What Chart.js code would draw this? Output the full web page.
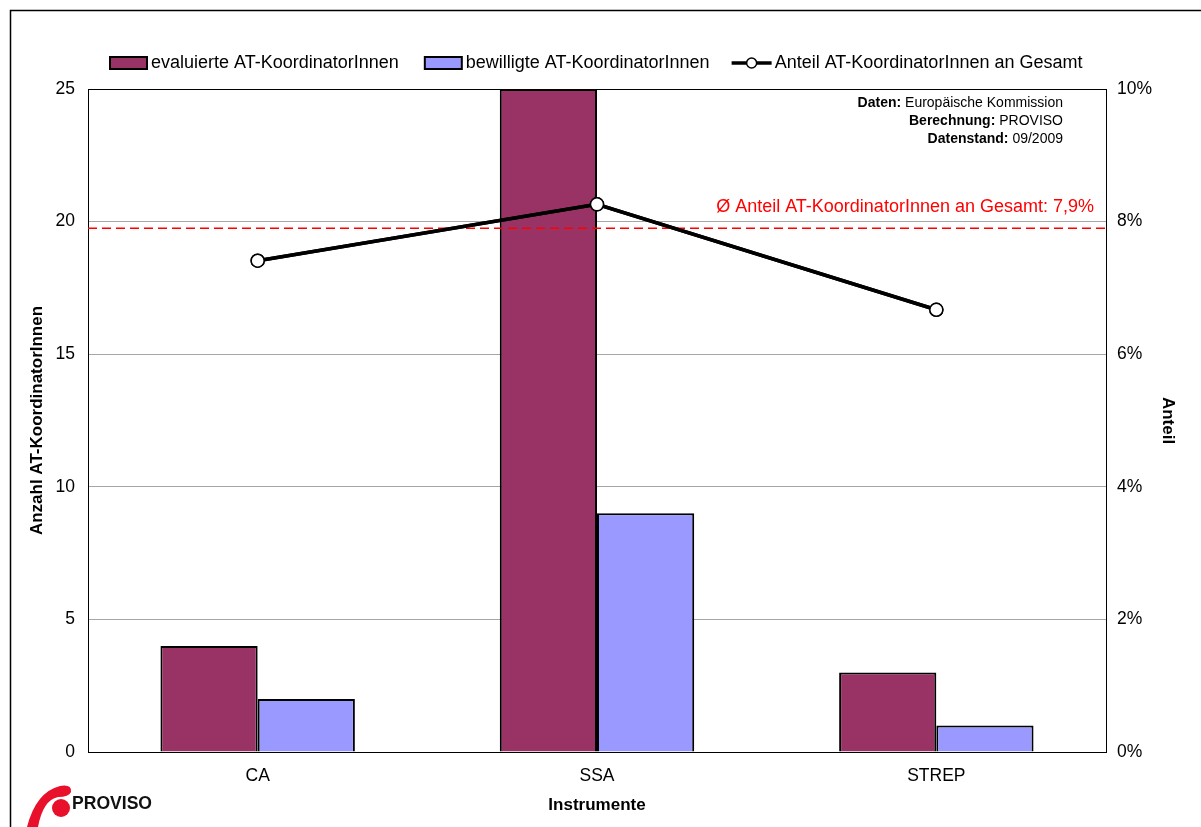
<!DOCTYPE html>
<html>
<head>
<meta charset="utf-8">
<script src="https://cdn.jsdelivr.net/npm/chart.js@4"></script>
<style>
  html, body { margin: 0; padding: 0; background: #fff; }
  #wrap { width: 1201px; height: 827px; }
</style>
</head>
<body>
<div id="wrap"><canvas id="c" width="1201" height="827"></canvas></div>
<script>
// Instrument categories
const categories = ['CA', 'SSA', 'STREP'];
// Number of Austrian coordinators: evaluated and approved
const evaluated = [4, 25, 3];
const approved = [2, 9, 1];
// Share of Austrian coordinators in total (percent)
const sharePct = [7.41, 8.26, 6.67];
// Average share (percent)
const avgSharePct = 7.9;
const avgShareLabel = 'Ø Anteil AT-KoordinatorInnen an Gesamt: 7,9%';

const seriesNames = ['evaluierte AT-KoordinatorInnen', 'bewilligte AT-KoordinatorInnen', 'Anteil AT-KoordinatorInnen an Gesamt'];
const sourceLines = [
  ['Daten:', ' Europäische Kommission'],
  ['Berechnung:', ' PROVISO'],
  ['Datenstand:', ' 09/2009']
];
const leftTicks = [0, 5, 10, 15, 20, 25];
const rightTicks = [0, 2, 4, 6, 8, 10];

const FONT = 'Arial, "Liberation Sans", sans-serif';
const COL_EVAL = '#993366';
const COL_APPR = '#9999FF';

// Outer frame, plot frame, average line, legend, notes and logo
const decor = {
  id: 'decor',
  beforeDraw(chart) {
    const ctx = chart.ctx;
    ctx.save();
    ctx.fillStyle = '#fff';
    ctx.fillRect(0, 0, chart.width, chart.height);
    ctx.strokeStyle = '#000';
    ctx.lineWidth = 1.5;
    ctx.strokeRect(10.5, 10.5, 1400, 1200);
    ctx.restore();
  },
  beforeDatasetsDraw(chart) {
    const ctx = chart.ctx, a = chart.chartArea;
    ctx.save();
    ctx.strokeStyle = '#000';
    ctx.lineWidth = 1;
    ctx.strokeRect(Math.round(a.left) + 0.5, Math.round(a.top) + 0.5, Math.round(a.right - a.left), Math.round(a.bottom - a.top));
    ctx.restore();
  },
  // average share line across the whole plot, then the share line on top of it
  afterDatasetsDraw(chart) {
    const ctx = chart.ctx, a = chart.chartArea;
    const y = chart.scales.y1.getPixelForValue(avgSharePct);
    ctx.save();
    ctx.strokeStyle = '#FF0000';
    ctx.lineWidth = 1.5;
    ctx.setLineDash([9, 5]);
    ctx.beginPath();
    ctx.moveTo(a.left, y);
    ctx.lineTo(a.right, y);
    ctx.stroke();
    ctx.setLineDash([]);
    ctx.fillStyle = '#FF0000';
    ctx.font = '18px ' + FONT;
    ctx.textAlign = 'right';
    ctx.textBaseline = 'middle';
    ctx.fillText(avgShareLabel, a.right - 12, y - 21);
    ctx.restore();
    const lineMeta = chart.getDatasetMeta(0);
    ctx.save();
    lineMeta.controller.draw();
    ctx.restore();
  },
  afterDraw(chart) {
    const ctx = chart.ctx;
    ctx.save();
    // legend
    ctx.font = '18px ' + FONT;
    ctx.textBaseline = 'middle';
    ctx.textAlign = 'left';
    const ly = 63;
    let x = 110;
    [COL_EVAL, COL_APPR].forEach((col, i) => {
      ctx.fillStyle = col;
      ctx.fillRect(x, ly - 6, 37, 12);
      ctx.strokeStyle = '#000';
      ctx.lineWidth = 2;
      ctx.strokeRect(x, ly - 6, 37, 12);
      ctx.fillStyle = '#000';
      ctx.fillText(seriesNames[i], x + 41, ly);
      x += 41 + ctx.measureText(seriesNames[i]).width + 26;
    });
    x -= 4;
    ctx.strokeStyle = '#000';
    ctx.lineWidth = 3.5;
    ctx.beginPath();
    ctx.moveTo(x, ly);
    ctx.lineTo(x + 40, ly);
    ctx.stroke();
    ctx.beginPath();
    ctx.arc(x + 20, ly, 5, 0, Math.PI * 2);
    ctx.fillStyle = '#fff';
    ctx.fill();
    ctx.lineWidth = 1.5;
    ctx.stroke();
    ctx.fillStyle = '#000';
    ctx.fillText(seriesNames[2], x + 43, ly);

    // source notes
    const nx = 1063;
    sourceLines.forEach((ln, i) => {
      const y = 103 + i * 18;
      ctx.textAlign = 'right';
      ctx.font = '14px ' + FONT;
      ctx.fillText(ln[1], nx, y);
      const w = ctx.measureText(ln[1]).width;
      ctx.font = 'bold 14px ' + FONT;
      ctx.fillText(ln[0], nx - w, y);
    });

    // logo
    ctx.fillStyle = '#E8102A';
    ctx.beginPath();
    ctx.moveTo(27, 827);
    ctx.quadraticCurveTo(36, 792, 60, 786);
    ctx.quadraticCurveTo(72, 784, 71, 792);
    ctx.quadraticCurveTo(69, 797, 58, 797);
    ctx.quadraticCurveTo(43, 800, 38, 827);
    ctx.closePath();
    ctx.fill();
    ctx.beginPath();
    ctx.arc(61, 808, 9, 0, Math.PI * 2);
    ctx.fill();
    ctx.fillStyle = '#111';
    ctx.font = 'bold 19px ' + FONT;
    ctx.textAlign = 'left';
    ctx.textBaseline = 'middle';
    ctx.fillText('PROVISO', 72, 804, 80);
    ctx.restore();
  }
};

new Chart(document.getElementById('c'), {
  data: {
    labels: categories,
    datasets: [
      {
        type: 'line', label: seriesNames[2], data: sharePct, yAxisID: 'y1', order: 0,
        borderColor: '#000', borderWidth: 3.5, tension: 0,
        pointRadius: 6.5, pointBackgroundColor: '#fff', pointBorderColor: '#000', pointBorderWidth: 1.5
      },
      {
        type: 'bar', label: seriesNames[0], data: evaluated, yAxisID: 'y', order: 1,
        backgroundColor: COL_EVAL, borderColor: '#000', borderWidth: 2,
        barPercentage: 1, categoryPercentage: 0.573
      },
      {
        type: 'bar', label: seriesNames[1], data: approved, yAxisID: 'y', order: 2,
        backgroundColor: COL_APPR, borderColor: '#000', borderWidth: 2,
        barPercentage: 1, categoryPercentage: 0.573
      }
    ]
  },
  options: {
    responsive: false,
    animation: false,
    devicePixelRatio: 1,
    layout: { padding: { left: 10, top: 89, right: 0, bottom: 0 } },
    plugins: { legend: { display: false }, tooltip: { enabled: false } },
    scales: {
      x: {
        grid: { display: false, drawTicks: false },
        border: { display: false },
        ticks: { color: '#000', font: { family: FONT, size: 17.5 }, padding: 14, maxRotation: 0 },
        title: { display: true, text: 'Instrumente', color: '#000', font: { family: FONT, size: 17, weight: 'bold' }, padding: { top: 0, bottom: 11 } },
        afterFit(s) { s.height = 75; }
      },
      y: {
        position: 'left', min: 0, max: 25,
        afterBuildTicks(s) { s.ticks = leftTicks.map(v => ({ value: v })); },
        grid: { color: '#A6A6A6', lineWidth: 1, drawTicks: false },
        border: { display: false },
        ticks: { color: '#000', font: { family: FONT, size: 17.5 }, padding: 13 },
        title: { display: true, text: 'Anzahl AT-KoordinatorInnen', color: '#000', font: { family: FONT, size: 17, weight: 'bold' }, padding: { top: 17, bottom: 0 } },
        afterFit(s) { s.width = 78; }
      },
      y1: {
        position: 'right', min: 0, max: 10,
        afterBuildTicks(s) { s.ticks = rightTicks.map(v => ({ value: v })); },
        grid: { display: false, drawTicks: false },
        border: { display: false },
        ticks: { color: '#000', font: { family: FONT, size: 17.5 }, padding: 11, callback: v => v + '%' },
        title: { display: true, text: 'Anteil', color: '#000', font: { family: FONT, size: 17, weight: 'bold' }, padding: { top: 23, bottom: 0 } },
        afterFit(s) { s.width = 95; }
      }
    }
  },
  plugins: [decor]
});
</script>
</body>
</html>
